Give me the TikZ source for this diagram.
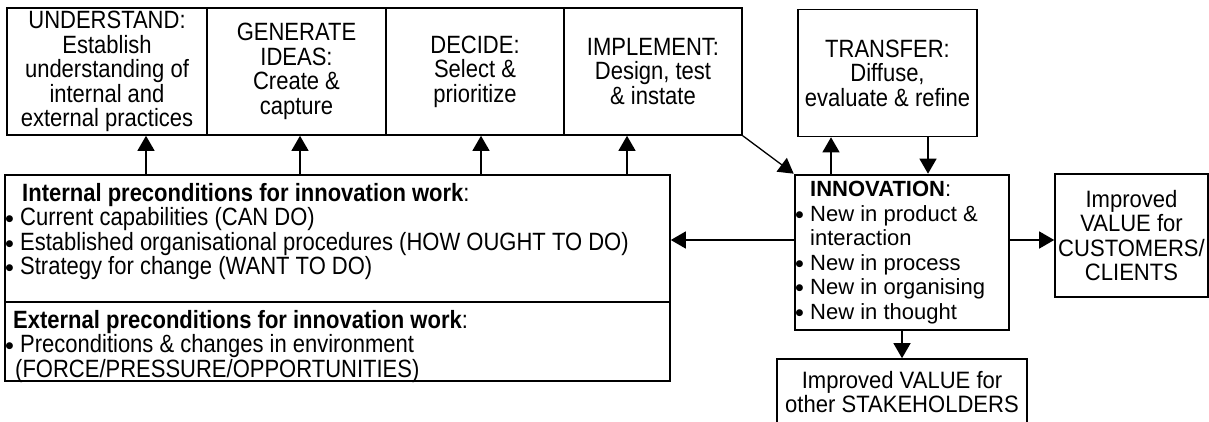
\documentclass[tikz,border=0pt]{standalone}
\usepackage{fontspec}
\setmainfont{Liberation Sans}
\newfontfamily\tallfont[FakeStretch=0.88]{Liberation Sans}
\newfontfamily\midfont[FakeStretch=0.93]{Liberation Sans}
\newfontfamily\dejavu{DejaVu Sans}
\usetikzlibrary{arrows.meta}
\newcommand{\bul}{\makebox[15pt][l]{\hspace{0.5pt}\raisebox{4pt}{\dejavu\fontsize{9}{9}\selectfont ●}}}
\begin{document}
\begin{tikzpicture}[x=1pt,y=-1pt,
  txt/.style={font=\fontsize{22}{24.5}\selectfont},
  tall/.style={font=\tallfont\fontsize{25}{24.5}\selectfont},
  mid/.style={font=\midfont\fontsize{23.7}{24.5}\selectfont},
  box/.style={draw, line width=1.6pt, align=center, inner sep=0pt, tall},
  arr/.style={line width=1.3pt, -{Triangle[length=15pt,width=17pt]}}]
\useasboundingbox (0,0) rectangle (1209,421);

% top boxes
\node[box, minimum width=200pt, minimum height=127pt] (und) at (107,71.5)
  {UNDERSTAND:\\Establish\\understanding of\\internal and\\external practices};
\node[box, minimum width=179pt, minimum height=127pt] (gen) at (296.5,71.5)
  {GENERATE\\IDEAS:\\Create \&\\capture};
\node[box, minimum width=178pt, minimum height=127pt] (dec) at (475,71.5)
  {DECIDE:\\Select \&\\prioritize};
\node[box, minimum width=178pt, minimum height=127pt] (imp) at (653,71.5)
  {IMPLEMENT:\\Design, test\\\& instate};
\node[box, minimum width=179pt, minimum height=127pt] (tra) at (887.5,73)
  {TRANSFER:\\Diffuse,\\evaluate \& refine};

% preconditions
\node[box, minimum width=665pt, minimum height=127pt] (int) at (337.5,238.5) {};
\node[box, minimum width=665pt, minimum height=79pt] (ext) at (337.5,341.5) {};
\node[tall, anchor=north west, align=left, inner sep=0pt] (inttxt) at (5,183)
  {\hspace{17pt}\textbf{Internal preconditions for innovation work}:\\
   \bul Current capabilities (CAN DO)\\
   \bul Established organisational procedures (HOW OUGHT TO DO)\\
   \bul Strategy for change (WANT TO DO)};
\node[tall, anchor=north west, align=left, inner sep=0pt] (exttxt) at (5,310)
  {\hspace{8pt}\textbf{External preconditions for innovation work}:\\
   \bul Preconditions \& changes in environment\\
   \hspace{10pt}(FORCE/PRESSURE/OPPORTUNITIES)};

% innovation
\node[draw, line width=2.6pt, minimum width=214pt, minimum height=155pt] (inn) at (902,252.5) {};
\node[txt, anchor=north west, align=left, inner sep=0pt] (inntxt) at (795,181)
  {\hspace{15pt}\textbf{INNOVATION}:\\
   \bul New in product \&\\
   \hspace{15pt}interaction\\
   \bul New in process\\
   \bul New in organising\\
   \bul New in thought};

% value boxes
\node[box, mid, minimum width=153pt, minimum height=123pt] (cus) at (1131.5,235.5)
  {Improved\\VALUE for\\CUSTOMERS/\\CLIENTS};
\node[box, mid, minimum width=250pt, minimum height=66pt] (sta) at (902,392)
  {Improved VALUE for\\other STAKEHOLDERS};

% arrow positions
\coordinate (c1) at (146,0);
\coordinate (c2) at (300,0);
\coordinate (c3) at (481,0);
\coordinate (c4) at (627,0);
\coordinate (c5) at (831,0);
\coordinate (c6) at (928,0);
\coordinate (r1) at (0,240);

\draw[arr] (int.north -| c1) -- (und.south -| c1);
\draw[arr] (int.north -| c2) -- (gen.south -| c2);
\draw[arr] (int.north -| c3) -- (dec.south -| c3);
\draw[arr] (int.north -| c4) -- (imp.south -| c4);
\draw[arr] (imp.south east) -- (inn.north west);
\draw[arr] (inn.north -| c5) -- (tra.south -| c5);
\draw[arr] (tra.south -| c6) -- (inn.north -| c6);
\draw[arr] (inn.west |- r1) -- (int.east |- r1);
\draw[arr] (inn.east |- r1) -- (cus.west |- r1);
\draw[arr] (inn.south) -- (sta.north);
\end{tikzpicture}
\end{document}
